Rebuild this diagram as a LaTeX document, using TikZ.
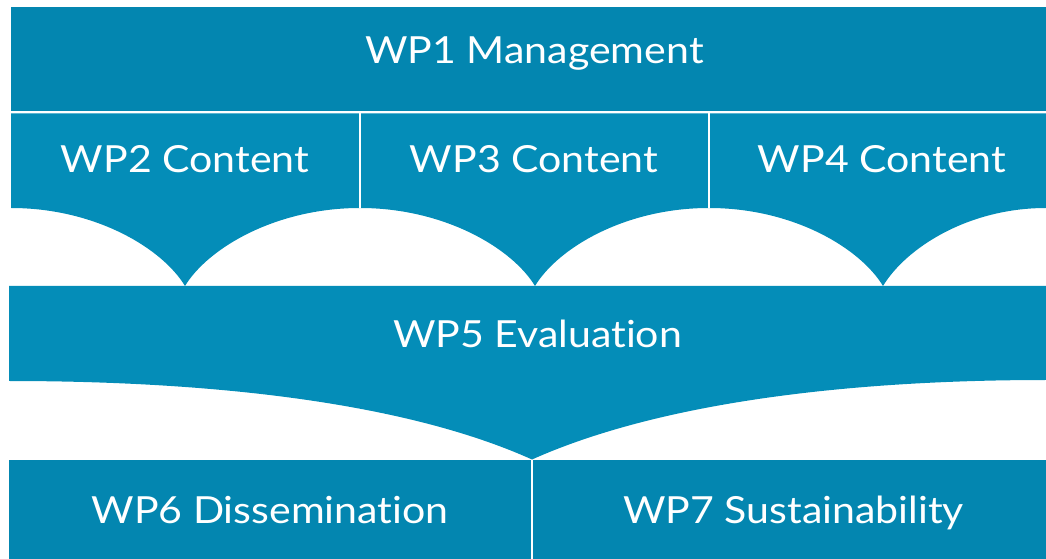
\documentclass[tikz,border=0pt]{standalone}
\usepackage{fontspec}
\setmainfont{Lato}[FakeStretch=1.1,Ligatures={NoCommon,NoRare,NoDiscretionary}]
\definecolor{wpdark}{HTML}{0386B0}
\definecolor{wplight}{HTML}{048DB8}
\begin{document}
\begin{tikzpicture}[x=0.75pt,y=-0.75pt,
  lbl/.style={text=white,anchor=base,inner sep=0pt,font=\fontsize{28}{33}\selectfont},
  divider/.style={draw=white,line width=1.2pt}]
\useasboundingbox (0,0) rectangle (1046,559);
% top box
\fill[wpdark] (11,7) rectangle (1046,111.5);
% content row
\fill[wplight] (11,113.5) -- (1046,113.5) -- (1046,208)
  .. controls (968,208) and (906,248) .. (883,286)
  .. controls (860,248) and (793,208) .. (709,208)
  .. controls (625,208) and (558,248) .. (535,286)
  .. controls (512,248) and (444,208) .. (360,208)
  .. controls (276,208) and (208,248) .. (185,286)
  .. controls (162,248) and (95,208) .. (11,208) -- cycle;
\coordinate (d1t) at (360,113.5); \coordinate (d1b) at (360,208);
\coordinate (d2t) at (709,113.5); \coordinate (d2b) at (709,208);
\draw[divider] (d1t) -- (d1b);
\draw[divider] (d2t) -- (d2b);
% WP5
\fill[wplight] (9,286) -- (1046,286) -- (1046,380)
  .. controls (860,380) and (665,400) .. (532,459.5)
  .. controls (400,400) and (200,381) .. (9,381) -- cycle;
% bottom row
\fill[wpdark] (9,460) rectangle (1046,559);
\coordinate (d3t) at (532,460); \coordinate (d3b) at (532,559);
\draw[divider] (d3t) -- (d3b);
% labels
\node[lbl] (wp1) at (534.5,63.5) {WP1 Management};
\node[lbl] (wp2) at (185,173) {WP2 Content};
\node[lbl] (wp3) at (534,173) {WP3 Content};
\node[lbl] (wp4) at (882,173) {WP4 Content};
\node[lbl] (wp5) at (537.5,348) {WP5 Evaluation};
\node[lbl] (wp6) at (270,523) {WP6 Dissemination};
\node[lbl] (wp7) at (793.5,523) {WP7 Sustainability};
\end{tikzpicture}
\end{document}
